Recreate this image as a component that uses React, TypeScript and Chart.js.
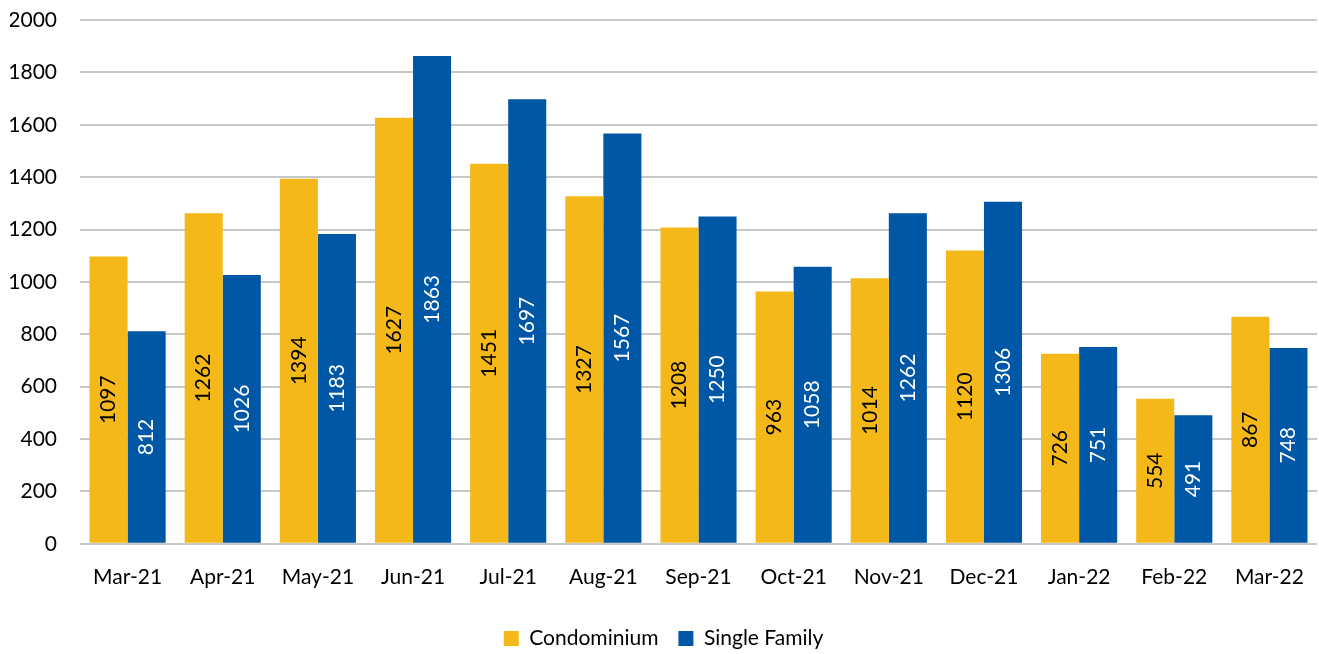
import React, { useEffect, useRef } from "react";
import { Chart, registerables } from "chart.js";

Chart.register(...registerables);

const categories = ["Mar-21", "Apr-21", "May-21", "Jun-21", "Jul-21", "Aug-21", "Sep-21", "Oct-21", "Nov-21", "Dec-21", "Jan-22", "Feb-22", "Mar-22"];
const condominium = [1097, 1262, 1394, 1627, 1451, 1327, 1208, 963, 1014, 1120, 726, 554, 867];
const singleFamily = [812, 1026, 1183, 1863, 1697, 1567, 1250, 1058, 1262, 1306, 751, 491, 748];
const yTicks = [0, 200, 400, 600, 800, 1000, 1200, 1400, 1600, 1800, 2000];

const FONT = "Lato, 'Open Sans', sans-serif";

const labelPlugin = {
  id: "vlabels",
  afterLayout(chart: any) {
    if (chart.legend) {
      chart.legend.top += 5;
      chart.legend.bottom += 5;
    }
  },
  afterDatasetsDraw(chart: any) {
    const ctx = chart.ctx;
    chart.data.datasets.forEach((ds: any, di: number) => {
      const meta = chart.getDatasetMeta(di);
      meta.data.forEach((bar: any, i: number) => {
        const v = ds.data[i];
        const x = bar.x;
        const y = (bar.y + bar.base) / 2;
        ctx.save();
        ctx.translate(x, y);
        ctx.rotate(-Math.PI / 2);
        ctx.fillStyle = di === 0 ? "#000000" : "#ffffff";
        ctx.font = `21px ${FONT}`;
        ctx.textAlign = "center";
        ctx.textBaseline = "middle";
        ctx.fillText(String(v), 0, 0);
        ctx.restore();
      });
    });
  },
};

export default function App() {
  const ref = useRef<HTMLCanvasElement>(null);
  useEffect(() => {
    document.body.style.margin = "0";
    const chart = new Chart(ref.current!, {
      type: "bar",
      data: {
        labels: categories,
        datasets: [
          { label: "Condominium", data: condominium, backgroundColor: "#F4B819", categoryPercentage: 0.8, barPercentage: 1.0 },
          { label: "Single Family", data: singleFamily, backgroundColor: "#0057A6", categoryPercentage: 0.8, barPercentage: 1.0 },
        ],
      },
      options: {
        animation: false,
        responsive: false,
        layout: { padding: { left: 10, right: 2, top: 20, bottom: 0 } },
        plugins: {
          legend: {
            position: "bottom",
            labels: {
              font: { family: FONT, size: 21 },
              color: "#000",
              boxWidth: 15,
              boxHeight: 15,
              padding: 20,
            },
          },
          tooltip: { enabled: false },
        },
        scales: {
          x: {
            grid: { display: false },
            border: { display: false },
            ticks: { font: { family: FONT, size: 21 }, color: "#000", padding: 13 },
            afterFit: (axis: any) => {
              axis.paddingLeft = 0;
              axis.paddingRight = 0;
            },
          },
          y: {
            min: 0,
            max: 2000,
            afterBuildTicks: (axis: any) => {
              axis.ticks = yTicks.map((v) => ({ value: v }));
            },
            afterFit: (axis: any) => {
              axis.width = 70;
              axis.paddingTop = 0;
              axis.paddingBottom = 0;
            },
            grid: { color: "#C8C8C8", lineWidth: 2, drawTicks: false },
            border: { display: false },
            ticks: { font: { family: FONT, size: 21 }, color: "#000", padding: 23, callback: (v: any) => String(v) },
          },
        },
      },
      plugins: [labelPlugin],
    });
    return () => chart.destroy();
  }, []);
  return <canvas ref={ref} width={1319} height={654} style={{ display: "block" }} />;
}
